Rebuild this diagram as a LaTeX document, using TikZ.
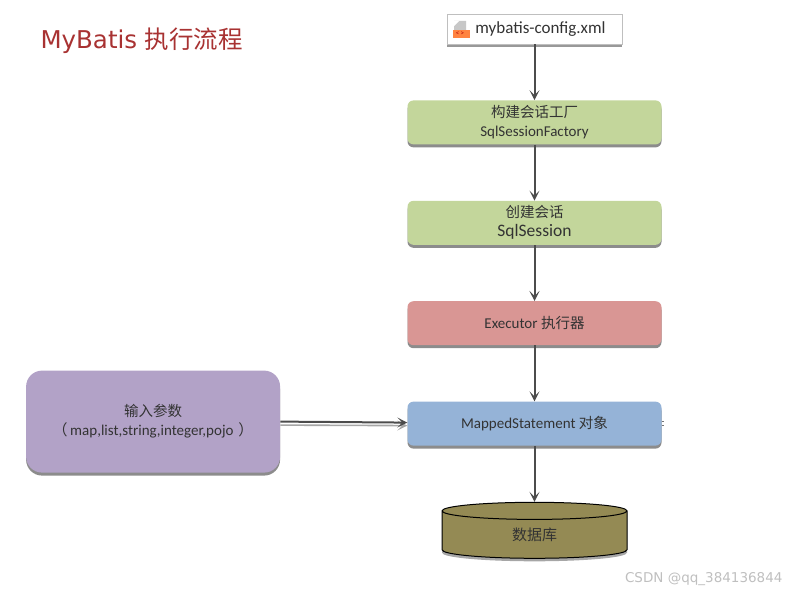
\documentclass[tikz,border=0pt]{standalone}
\usepackage{fontspec}
\setmainfont{Carlito}
\newfontfamily\cjk{Noto Sans CJK SC}
\newfontfamily\titlefont{DejaVu Sans}
\usetikzlibrary{positioning,arrows.meta,shapes.geometric,shadows}
\definecolor{greenbox}{HTML}{C3D69B}
\definecolor{redbox}{HTML}{D99694}
\definecolor{bluebox}{HTML}{95B3D7}
\definecolor{purplebox}{HTML}{B2A2C7}
\definecolor{dbbox}{HTML}{948A54}
\definecolor{titlered}{HTML}{A83232}
\definecolor{textdark}{HTML}{333333}

\begin{document}
\begin{tikzpicture}[
  node distance=56pt,
  shade3/.style={drop shadow={shadow xshift=0pt, shadow yshift=-3pt, fill=black!45, opacity=1}},
  flowbox/.style={rounded corners=6pt, minimum width=254pt, minimum height=44pt,
                  inner sep=0pt, align=center, font=\fontsize{15}{19}\selectfont,
                  text=textdark, shade3},
  filebox/.style={draw=black!25, fill=white, minimum width=175pt, minimum height=30pt,
                  inner sep=0pt, font=\fontsize{17}{20}\selectfont, text=textdark,
                  drop shadow={shadow xshift=0pt, shadow yshift=-3pt, fill=black!40, opacity=1}},
  dbase/.style ={draw=black, line width=1pt, fill=dbbox, cylinder, shape border rotate=90,
                  shape aspect=0.38, minimum width=185pt, minimum height=56pt, inner sep=0pt,
                  font=\fontsize{15}{19}\selectfont, text=textdark,
                  drop shadow={shadow xshift=0pt, shadow yshift=-3pt, fill=black!35, opacity=1}},
  arr/.style   ={-{Stealth[length=10pt,width=10pt,inset=5pt]}, line width=2pt, draw=black!70},
  arrpale/.style={-{Stealth[length=10pt,width=10pt,inset=5pt]}, line width=1.6pt, draw=black!35}]

\useasboundingbox (0,0) rectangle (805pt,-594pt);

\node[anchor=west, text=titlered, font=\titlefont\fontsize{24.5}{28}\selectfont] (title) at (37pt,-41pt)
  {MyBatis {\cjk 执行流程}};

\node[filebox] (config) at (534.5pt,-29pt) {\hspace*{20pt}mybatis-config.xml\hspace*{8pt}};
\node[flowbox, fill=greenbox, below=of config] (factory)
  {{\cjk\fontsize{14.5}{19}\selectfont 构建会话工厂}\\SqlSessionFactory};
\node[flowbox, fill=greenbox, below=of factory] (session)
  {{\cjk\fontsize{14.5}{19}\selectfont 创建会话}\\{\fontsize{17.5}{19}\selectfont SqlSession}};
\node[flowbox, fill=redbox, below=of session] (executor) {Executor {\cjk\fontsize{14.5}{19}\selectfont 执行器}};
\node[flowbox, fill=bluebox, below=of executor] (mapped) {MappedStatement {\cjk\fontsize{14.5}{19}\selectfont 对象}};
\node[dbase, below=of mapped] (db) {\raisebox{-3pt}{\cjk 数据库}};
\node[flowbox, fill=purplebox, rounded corners=16pt, minimum height=102pt,
      left=127pt of mapped, yshift=2pt] (input)
  {{\cjk\fontsize{14.5}{19}\selectfont 输入参数}\\{\cjk （}\,map,list,string,integer,pojo\,\,{\cjk ）}};

% file icon
\fill[black!22] (454pt,-21pt) -- (460pt,-21pt) -- (466pt,-21pt) -- (466pt,-30pt) -- (454pt,-30pt) -- cycle;
\fill[white] (454pt,-21pt) -- (459pt,-21pt) -- (454pt,-26pt) -- cycle;
\fill[orange!70!red!75] (453pt,-30pt) rectangle (470pt,-38pt);
\node[inner sep=0pt, text=red!70!black, font=\fontsize{7}{7}\selectfont] (icontag) at (460pt,-34pt) {<\,>};

\coordinate[right=2pt of mapped.east] (stub);
\draw[black!55, line width=.7pt] ([yshift=1.8pt]mapped.east) -- ([yshift=1.8pt]stub);
\draw[black!55, line width=.7pt] ([yshift=-1.8pt]mapped.east) -- ([yshift=-1.8pt]stub);

\draw[arr] (config)   -- (factory);
\draw[arr] (factory)  -- (session);
\draw[arr] (session)  -- (executor);
\draw[arr] (executor) -- (mapped);
\draw[arr] (mapped)   -- (db);
\draw[arrpale] ([yshift=-3.5pt]input.east) -- ([yshift=-2pt]mapped.west);
\draw[arr] (input.east) -- ([yshift=1pt]mapped.west);

\node[anchor=east, text=black!25, font=\titlefont\fontsize{13.5}{16}\selectfont] (mark) at (786pt,-579pt)
  {CSDN @qq\_384136844};
\end{tikzpicture}
\end{document}
